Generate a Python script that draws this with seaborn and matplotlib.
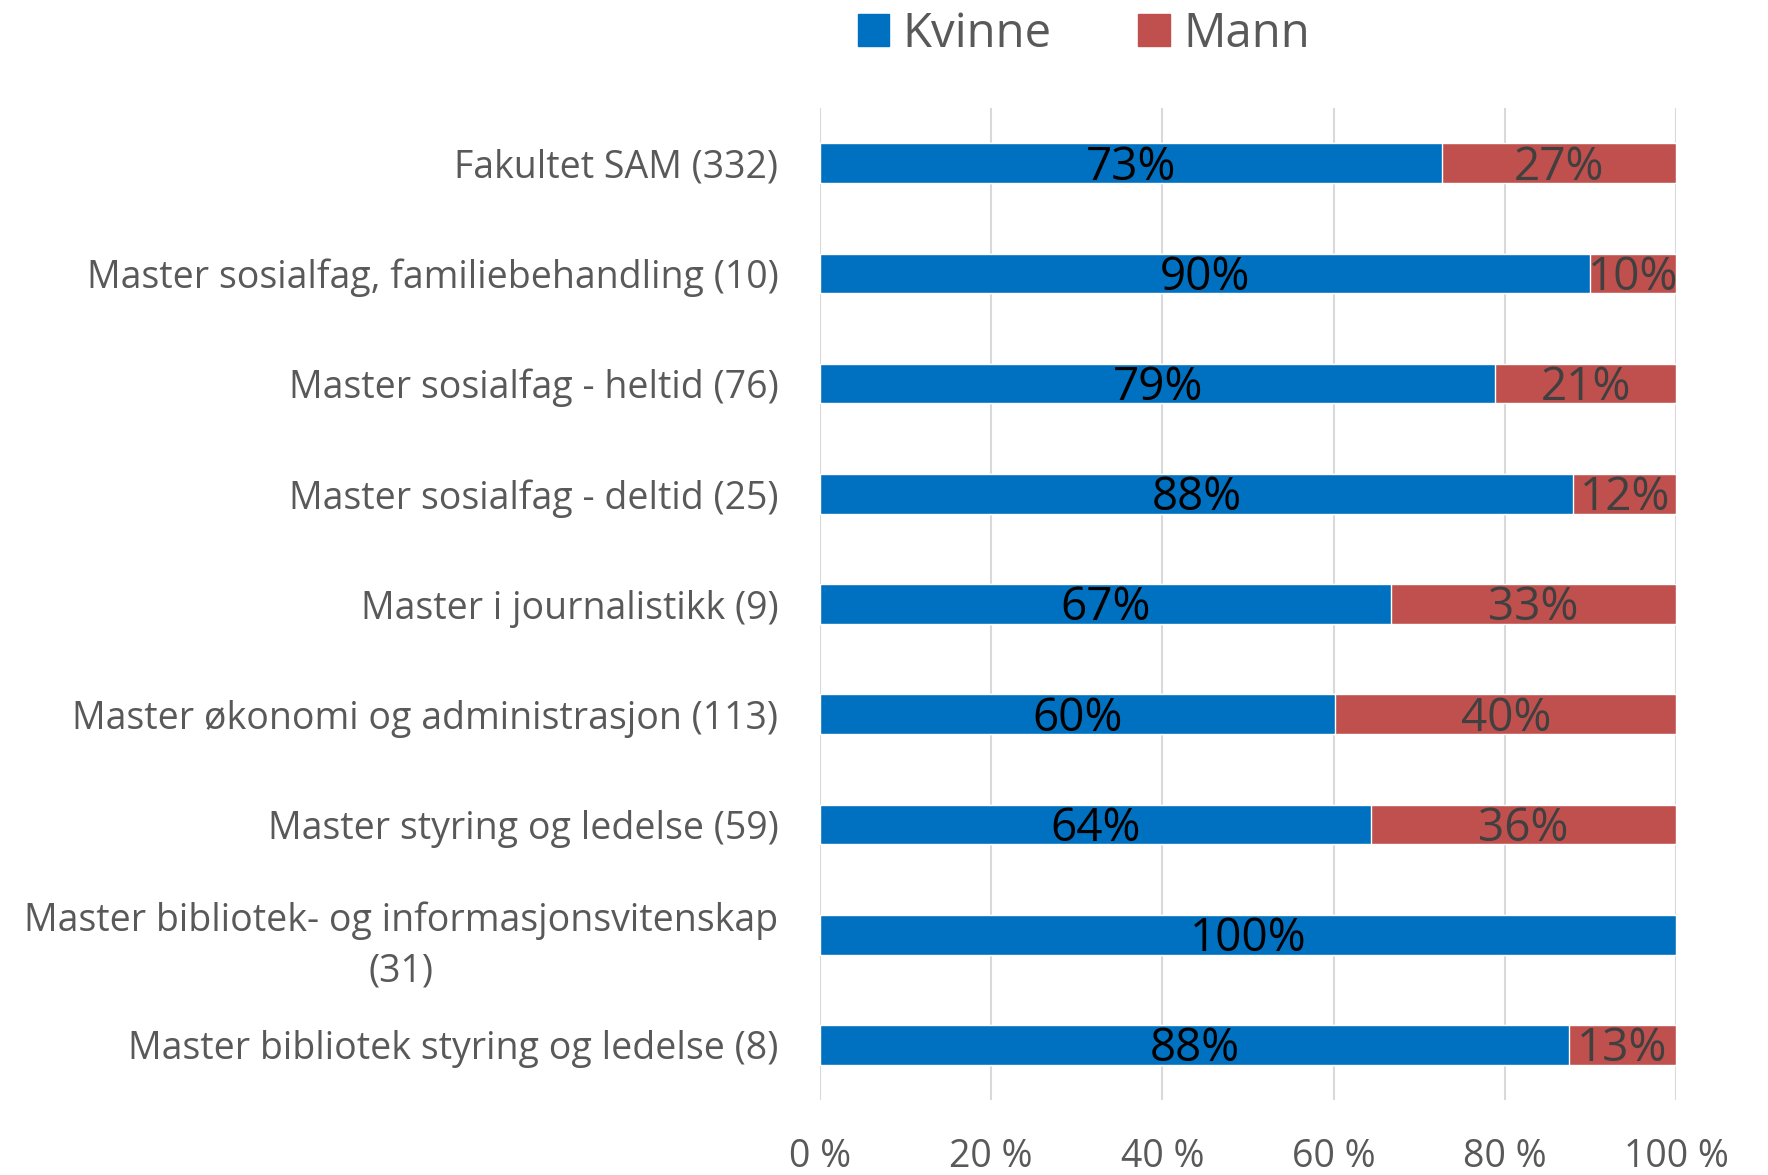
import matplotlib
matplotlib.use("Agg")
import matplotlib.pyplot as plt
import seaborn as sns
import pandas as pd

# --- data ---
programs = [
    "Fakultet SAM (332)",
    "Master sosialfag, familiebehandling (10)",
    "Master sosialfag - heltid (76)",
    "Master sosialfag - deltid (25)",
    "Master i journalistikk (9)",
    "Master økonomi og administrasjon (113)",
    "Master styring og ledelse (59)",
    "Master bibliotek- og informasjonsvitenskap\n(31)",
    "Master bibliotek styring og ledelse (8)",
]
kvinne = [72.6, 90.0, 78.9, 88.0, 66.7, 60.2, 64.4, 100.0, 87.5]
mann = [27.4, 10.0, 21.1, 12.0, 33.3, 39.8, 35.6, 0.0, 12.5]
x_ticks = [0, 20, 40, 60, 80, 100]
x_ticklabels = ["0 %", "20 %", "40 %", "60 %", "80 %", "100 %"]

BLUE = "#0070C0"
RED = "#C0504D"
GREY = "#595959"

df = pd.DataFrame({"program": programs, "Kvinne": kvinne, "Mann": mann})
df["total"] = df["Kvinne"] + df["Mann"]

sns.set_style("white")
plt.rcParams["font.family"] = ["Open Sans", "DejaVu Sans"]

fig = plt.figure(figsize=(17.68, 11.75), dpi=100)
ax = fig.add_axes([0.4638, 0.0638, 0.948 - 0.4638, 0.908 - 0.0638])

# stacked look: full bar in red, women share drawn over it in blue
sns.barplot(data=df, y="program", x="total", color=RED, width=0.36,
            saturation=1, orient="h", ax=ax, zorder=3)
sns.barplot(data=df, y="program", x="Kvinne", color=BLUE, width=0.36,
            saturation=1, orient="h", ax=ax, zorder=4)

def pct(v):
    return f"{int(v + 0.5)}%"

for i, (k, m) in enumerate(zip(kvinne, mann)):
    ax.text(k / 2, i + 0.04, pct(k), ha="center", va="center",
            fontsize=33, color="black", zorder=5)
    if m > 0:
        ax.text(k + m / 2, i + 0.04, pct(m), ha="center", va="center",
                fontsize=33, color="#404040", zorder=5)

ax.set_xlim(0, 100)
ax.set_ylim(len(programs) - 0.5, -0.5)
ax.set_xticks(x_ticks)
ax.set_xticklabels(x_ticklabels)
ax.tick_params(axis="x", length=0, pad=27, labelsize=27, labelcolor=GREY)
ax.tick_params(axis="y", length=0, pad=30, labelsize=27, labelcolor=GREY)
for lbl in ax.get_yticklabels():
    lbl.set_multialignment("center")
    lbl.set_linespacing(1.45)
ax.set_xlabel("")
ax.set_ylabel("")
ax.grid(axis="x", color="#D9D9D9", linewidth=1.5, zorder=0)
ax.set_axisbelow(True)
for s in ax.spines.values():
    s.set_visible(False)

handles = [plt.Rectangle((0, 0), 1, 1, color=BLUE),
           plt.Rectangle((0, 0), 1, 1, color=RED)]
fig.legend(handles, ["Kvinne", "Mann"], loc="center",
           bbox_to_anchor=(1084 / 1768, 1 - 34 / 1175), ncol=2, frameon=False,
           fontsize=34, labelcolor=GREY, handlelength=0.66, handleheight=0.66,
           handletextpad=0.3, columnspacing=1.83)

fig.savefig("out.png", dpi=100)
